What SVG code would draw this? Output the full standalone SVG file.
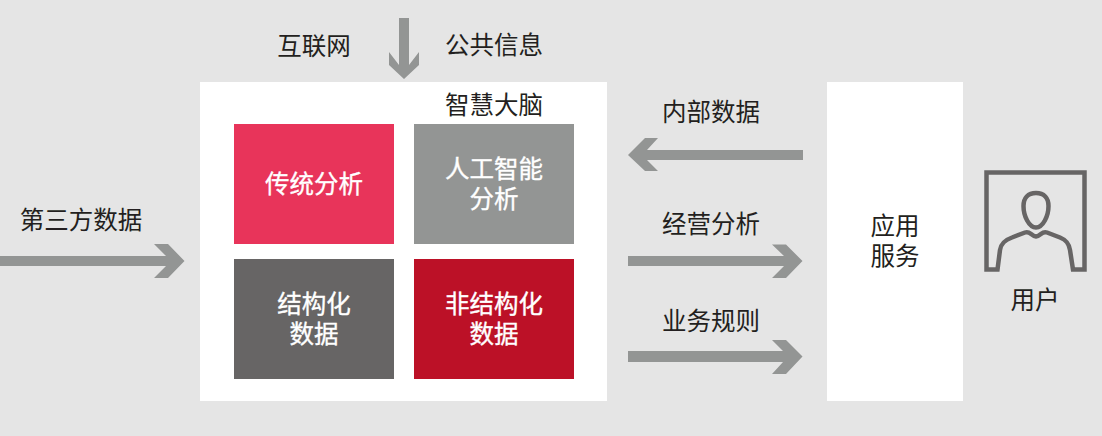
<svg xmlns="http://www.w3.org/2000/svg" width="1102" height="436" viewBox="0 0 1102 436">
<style>
text{font-family:"Liberation Sans","Noto Sans CJK SC",sans-serif;font-size:24.500px;text-anchor:middle}
.d{fill:#231f20}.w{fill:#fff;stroke:#fff;stroke-width:.35px}
.a{fill:#939594}
.i{fill:none;stroke:#676565;stroke-width:4.500}
</style>
<rect width="1102" height="436" fill="#e5e5e5"/>
<g id="brain"><rect x="200" y="82" width="407" height="319" fill="#fff"/><text class="d" x="494" y="114">智慧大脑</text></g>
<g id="traditional"><rect x="234" y="124" width="160" height="120" fill="#e8345a"/><text class="w" x="314" y="193">传统分析</text></g>
<g id="ai"><rect x="414" y="124" width="160" height="120" fill="#939594"/><text class="w" x="494" y="178">人工智能</text><text class="w" x="494" y="208">分析</text></g>
<g id="structured"><rect x="234" y="259" width="160" height="120" fill="#676565"/><text class="w" x="314" y="313">结构化</text><text class="w" x="314" y="343">数据</text></g>
<g id="unstructured"><rect x="414" y="259" width="160" height="120" fill="#bc1127"/><text class="w" x="494" y="313">非结构化</text><text class="w" x="494" y="343">数据</text></g>
<g id="service"><rect x="827" y="82" width="136" height="319" fill="#fff"/><text class="d" x="895" y="235">应用</text><text class="d" x="895" y="265">服务</text></g>
<g id="user"><path class="i" d="M986.500 172.500H1084.500V269.500H1073L1070 250C1069 243 1066 240 1060 237.500L1047 232.500C1042 230.500 1041 236 1036 236.500C1031 236 1030 230.500 1025 232.500L1012 237.500C1005 240 1001 243 1000 250L997.500 269.500H986.500Z"/><path class="i" d="M1036 193C1028 193 1023.500 198 1023.500 206C1023.500 216 1029 227.500 1036 227.500C1043 227.500 1048.500 216 1048.500 206C1048.500 198 1044 193 1036 193Z"/><text class="d" x="1035" y="309">用户</text></g>
<g id="connectors">
<path class="a" d="M399 18H409V65L419 52V65L404 79L389 65V52L399 65Z"/>
<path class="a" d="M0 256H166L154 244H168L184.500 261L168 278H154L166 266H0Z"/>
<path class="a" d="M628 155L645 138H658L647 150H803V160H647L658 171H645Z"/>
<path class="a" d="M628 256H784L772 244.500H786L802.500 261L786 278H772L784 266H628Z"/>
<path class="a" d="M628 351H783L772 340H786L802.500 356.500L786 374H772L783 362H628Z"/>
</g>
<g id="labels">
<text class="d" x="314" y="55">互联网</text><text class="d" x="494" y="54">公共信息</text>
<text class="d" x="81" y="229">第三方数据</text>
<text class="d" x="711" y="121">内部数据</text><text class="d" x="711" y="233">经营分析</text><text class="d" x="711" y="330">业务规则</text>
</g>
</svg>
